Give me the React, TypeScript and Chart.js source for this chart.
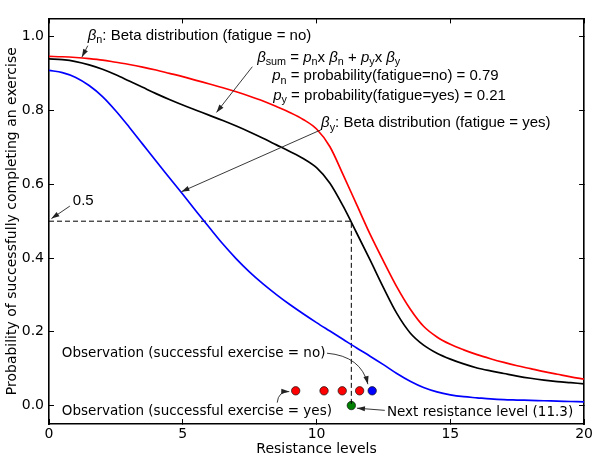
import React, { useEffect, useRef } from "react";
import { Chart, registerables } from "chart.js";

Chart.register(...registerables);

// ---------- data ----------
const RESISTANCE = [
  0, 0.5, 1, 1.5, 2, 2.5, 3, 3.5, 4, 4.5, 5, 5.5, 6, 6.5, 7, 7.5, 8, 8.5, 9, 9.5, 10,
  10.5, 11, 11.5, 12, 12.5, 13, 13.5, 14, 14.5, 15, 15.5, 16, 16.5, 17, 17.5, 18, 18.5, 19, 19.5, 20,
];
// β_n : Beta distribution (fatigue = no) – red
const BETA_NO = [
  0.947, 0.946, 0.944, 0.941, 0.937, 0.931, 0.925, 0.918, 0.91, 0.901, 0.892, 0.882, 0.872, 0.862, 0.851,
  0.839, 0.826, 0.811, 0.795, 0.776, 0.75, 0.702, 0.625, 0.545, 0.465, 0.392, 0.322, 0.262, 0.215, 0.186,
  0.166, 0.151, 0.138, 0.127, 0.117, 0.108, 0.1, 0.092, 0.085, 0.078, 0.072,
];
// β_sum – black
const BETA_SUM = [
  0.94, 0.938, 0.933, 0.924, 0.912, 0.897, 0.88, 0.863, 0.846, 0.83, 0.815, 0.801, 0.787, 0.773, 0.758,
  0.742, 0.725, 0.707, 0.689, 0.67, 0.645, 0.603, 0.54, 0.468, 0.395, 0.32, 0.25, 0.197, 0.164, 0.142,
  0.126, 0.113, 0.102, 0.094, 0.087, 0.08, 0.074, 0.069, 0.065, 0.062, 0.059,
];
// β_y : Beta distribution (fatigue = yes) – blue
const BETA_YES = [
  0.909, 0.903, 0.89, 0.868, 0.838, 0.799, 0.755, 0.709, 0.663, 0.618, 0.573, 0.527, 0.482, 0.438, 0.398,
  0.362, 0.33, 0.301, 0.274, 0.249, 0.225, 0.202, 0.179, 0.156, 0.134, 0.111, 0.087, 0.066, 0.049, 0.037,
  0.029, 0.024, 0.021, 0.018, 0.016, 0.015, 0.014, 0.013, 0.012, 0.011, 0.01,
];
const OBS_SUCCESS_X = [9.22, 10.28, 10.96, 11.61];
const OBS_FAIL_X = [12.08];
const OBS_Y = 0.04;
const NEXT_LEVEL = 11.3;
const THRESHOLD = 0.5;

const X_TICKS = [0, 5, 10, 15, 20];
const Y_TICKS = [0, 0.2, 0.4, 0.6, 0.8, 1.0];

// ---------- annotations (data coordinates) ----------
type Seg = { t: string; it?: boolean; sub?: boolean };
const ARIAL = "'Liberation Sans', Arial, sans-serif";
const DEJAVU = "'DejaVu Sans', sans-serif";

const TEXTS: { segs: Seg[]; x: number; y: number; fam: string; size: number }[] = [
  {
    segs: [{ t: "β", it: true }, { t: "n", sub: true }, { t: ": Beta distribution (fatigue = no)" }],
    x: 1.45, y: 0.992, fam: ARIAL, size: 15,
  },
  {
    segs: [
      { t: "β", it: true }, { t: "sum", sub: true }, { t: " = " }, { t: "p", it: true }, { t: "n", sub: true },
      { t: "x " }, { t: "β", it: true }, { t: "n", sub: true }, { t: " + " }, { t: "p", it: true },
      { t: "y", sub: true }, { t: "x " }, { t: "β", it: true }, { t: "y", sub: true },
    ],
    x: 7.78, y: 0.932, fam: ARIAL, size: 15,
  },
  {
    segs: [{ t: "p", it: true }, { t: "n", sub: true }, { t: " = probability(fatigue=no) = 0.79" }],
    x: 8.34, y: 0.882, fam: ARIAL, size: 15,
  },
  {
    segs: [{ t: "p", it: true }, { t: "y", sub: true }, { t: " = probability(fatigue=yes) = 0.21" }],
    x: 8.38, y: 0.829, fam: ARIAL, size: 15,
  },
  {
    segs: [{ t: "β", it: true }, { t: "y", sub: true }, { t: ": Beta distribution (fatigue = yes)" }],
    x: 10.17, y: 0.755, fam: ARIAL, size: 15,
  },
  { segs: [{ t: "0.5" }], x: 0.89, y: 0.544, fam: ARIAL, size: 15 },
  { segs: [{ t: "Observation (successful exercise = no)" }], x: 0.48, y: 0.131, fam: DEJAVU, size: 13.5 },
  { segs: [{ t: "Observation (successful exercise = yes)" }], x: 0.48, y: -0.025, fam: DEJAVU, size: 13.5 },
  { segs: [{ t: "Next resistance level (11.3)" }], x: 12.63, y: -0.029, fam: DEJAVU, size: 13.5 },
];

// straight arrows: [tailX, tailY, tipX, tipY]
const ARROWS: number[][] = [
  [1.45, 0.976, 1.23, 0.945],
  [7.6, 0.919, 6.26, 0.795],
  [10.17, 0.748, 4.95, 0.58],
  [0.78, 0.541, 0.09, 0.507],
  [12.55, -0.013, 11.51, -0.007],
];
// curved arrows: [startX, startY, ctrlX, ctrlY, tipX, tipY]
const CURVES: number[][] = [
  [10.39, 0.142, 11.66, 0.134, 11.92, 0.058],
  [8.53, 0.008, 8.57, 0.039, 8.98, 0.038],
];

function drawRich(ctx: CanvasRenderingContext2D, segs: Seg[], x: number, y: number, fam: string, size: number) {
  let cx = x;
  for (const s of segs) {
    const sz = s.sub ? size * 0.72 : size;
    ctx.font = `${s.it ? "italic " : ""}${sz}px ${fam}`;
    ctx.fillText(s.t, cx, y + (s.sub ? 3.5 : 0));
    cx += ctx.measureText(s.t).width;
  }
}

function head(ctx: CanvasRenderingContext2D, fx: number, fy: number, tx: number, ty: number) {
  const a = Math.atan2(ty - fy, tx - fx);
  const L = 8, W = 2.6;
  ctx.beginPath();
  ctx.moveTo(tx, ty);
  ctx.lineTo(tx - L * Math.cos(a) + W * Math.sin(a), ty - L * Math.sin(a) - W * Math.cos(a));
  ctx.lineTo(tx - L * Math.cos(a) - W * Math.sin(a), ty - L * Math.sin(a) + W * Math.cos(a));
  ctx.closePath();
  ctx.fill();
}

const annotationPlugin = {
  id: "annotations",
  afterDatasetsDraw(chart: any) {
    const ctx: CanvasRenderingContext2D = chart.ctx;
    const xs = chart.scales.x;
    const ys = chart.scales.y;
    const px = (v: number) => xs.getPixelForValue(v);
    const py = (v: number) => ys.getPixelForValue(v);
    ctx.save();
    ctx.fillStyle = "#000";
    ctx.textBaseline = "alphabetic";
    ctx.textAlign = "left";
    for (const t of TEXTS) drawRich(ctx, t.segs, px(t.x), py(t.y), t.fam, t.size);
    ctx.strokeStyle = "#222";
    ctx.fillStyle = "#222";
    ctx.lineWidth = 0.9;
    for (const a of ARROWS) {
      const [x1, y1, x2, y2] = [px(a[0]), py(a[1]), px(a[2]), py(a[3])];
      ctx.beginPath();
      ctx.moveTo(x1, y1);
      ctx.lineTo(x2, y2);
      ctx.stroke();
      head(ctx, x1, y1, x2, y2);
    }
    for (const c of CURVES) {
      const [x1, y1, cx, cy, x2, y2] = [px(c[0]), py(c[1]), px(c[2]), py(c[3]), px(c[4]), py(c[5])];
      ctx.beginPath();
      ctx.moveTo(x1, y1);
      ctx.quadraticCurveTo(cx, cy, x2, y2);
      ctx.stroke();
      head(ctx, cx, cy, x2, y2);
    }
    ctx.restore();
  },
};

export default function App() {
  const ref = useRef<HTMLCanvasElement | null>(null);
  useEffect(() => {
    if (!ref.current) return;
    const line = (vals: number[], color: string) => ({
      type: "line" as const,
      data: RESISTANCE.map((x, i) => ({ x, y: vals[i] })),
      borderColor: color,
      borderWidth: 1.7,
      pointRadius: 0,
      fill: false,
      cubicInterpolationMode: "monotone" as const,
    });
    const dots = (xsArr: number[], y: number, color: string) => ({
      type: "scatter" as const,
      data: xsArr.map((x) => ({ x, y })),
      backgroundColor: color,
      borderColor: "#111",
      borderWidth: 0.7,
      pointRadius: 4.2,
      showLine: false,
    });
    const tickFont = { family: "'DejaVu Sans'", size: 14 };
    const grid = { drawOnChartArea: false, tickLength: -5, tickColor: "#000", tickWidth: 1 };
    const border = { color: "#000", width: 1.6 };
    const chart = new Chart(ref.current, {
      type: "line",
      data: {
        datasets: [
          line(BETA_NO, "#ff0000"),
          line(BETA_SUM, "#000000"),
          line(BETA_YES, "#0000ff"),
          {
            type: "line",
            data: [
              { x: 0, y: THRESHOLD },
              { x: NEXT_LEVEL, y: THRESHOLD },
              { x: NEXT_LEVEL, y: 0 },
            ],
            borderColor: "#000",
            borderWidth: 1,
            borderDash: [5, 3],
            pointRadius: 0,
            tension: 0,
            fill: false,
          },
          dots(OBS_SUCCESS_X, OBS_Y, "#ff0000"),
          dots(OBS_FAIL_X, OBS_Y, "#0000ff"),
          dots([NEXT_LEVEL], 0, "#008000"),
        ] as any,
      },
      options: {
        animation: false,
        responsive: false,
        maintainAspectRatio: false,
        layout: { padding: 0 },
        plugins: { legend: { display: false }, tooltip: { enabled: false } },
        scales: {
          x: {
            type: "linear",
            position: "bottom",
            min: 0,
            max: 20,
            afterBuildTicks: (s: any) => { s.ticks = X_TICKS.map((v) => ({ value: v })); },
            afterFit: (s: any) => { s.height = 35; },
            ticks: { font: tickFont, color: "#000", padding: 7, maxRotation: 0, callback: (v: any) => String(v) },
            grid,
            border,
            title: {
              display: true,
              text: "Resistance levels",
              color: "#000",
              font: { family: "'DejaVu Sans'", size: 14 },
              padding: { top: 0, bottom: 1 },
            },
          },
          y: {
            type: "linear",
            position: "left",
            min: -0.05,
            max: 1.05,
            afterBuildTicks: (s: any) => { s.ticks = Y_TICKS.map((v) => ({ value: v })); },
            afterFit: (s: any) => { s.width = 49; },
            ticks: { font: tickFont, color: "#000", padding: 10, callback: (v: any) => Number(v).toFixed(1) },
            grid,
            border,
            title: {
              display: true,
              text: "Probability of successfully completing an exercise",
              color: "#000",
              font: { family: "'DejaVu Sans'", size: 14 },
              padding: { top: 4, bottom: 0 },
            },
          },
          x2: {
            type: "linear",
            position: "top",
            min: 0,
            max: 20,
            afterBuildTicks: (s: any) => { s.ticks = X_TICKS.map((v) => ({ value: v })); },
            afterFit: (s: any) => { s.height = 4; },
            ticks: { display: false },
            grid,
            border,
          },
          y2: {
            type: "linear",
            position: "right",
            min: -0.05,
            max: 1.05,
            afterBuildTicks: (s: any) => { s.ticks = Y_TICKS.map((v) => ({ value: v })); },
            afterFit: (s: any) => { s.width = 14; },
            ticks: { display: false },
            grid,
            border,
          },
        },
      } as any,
      plugins: [annotationPlugin],
    });
    return () => chart.destroy();
  }, []);
  return (
    <div style={{ position: "absolute", left: 0, top: 0, width: 600, height: 459, background: "#fff" }}>
      <canvas ref={ref} width={600} height={459} style={{ width: "600px", height: "459px" }} />
    </div>
  );
}
